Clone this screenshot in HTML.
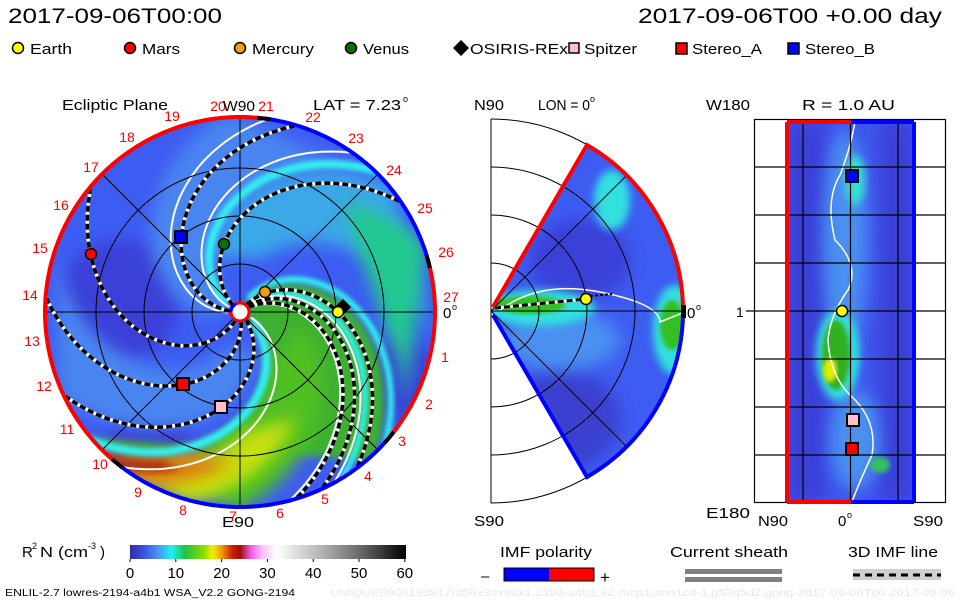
<!DOCTYPE html>
<html><head><meta charset="utf-8"><style>
html,body{margin:0;padding:0;background:#fff;width:960px;height:600px;overflow:hidden}
svg{display:block}
text{font-family:"Liberation Sans",sans-serif}
</style></head><body>
<svg id="s" width="960" height="600" viewBox="0 0 960 600" xmlns="http://www.w3.org/2000/svg">
<defs>
<filter id="b4" x="-20%" y="-20%" width="140%" height="140%"><feGaussianBlur stdDeviation="4"/></filter>
<filter id="b8" x="-30%" y="-30%" width="160%" height="160%"><feGaussianBlur stdDeviation="8"/></filter>
<filter id="b2"><feGaussianBlur stdDeviation="2"/></filter>
<clipPath id="cl"><circle cx="240" cy="312" r="194"/></clipPath>
<clipPath id="cm"><path d="M491 311 L587 145 A192 192 0 0 1 587 477 Z"/></clipPath>
<clipPath id="cr"><rect x="786" y="122" width="129" height="380"/></clipPath>
<linearGradient id="cb" x1="0" x2="1" y1="0" y2="0">
<stop offset="0" stop-color="#3030a0"/><stop offset="0.05" stop-color="#3c50e0"/><stop offset="0.1" stop-color="#4a90f0"/><stop offset="0.15" stop-color="#20f0f0"/><stop offset="0.2" stop-color="#20c040"/><stop offset="0.27" stop-color="#90e000"/><stop offset="0.3" stop-color="#f0f000"/><stop offset="0.33" stop-color="#f0a000"/><stop offset="0.37" stop-color="#d02000"/><stop offset="0.4" stop-color="#a01010"/><stop offset="0.44" stop-color="#f060f0"/><stop offset="0.48" stop-color="#ffc0ff"/><stop offset="0.53" stop-color="#ffffff"/><stop offset="0.7" stop-color="#b0b0b0"/><stop offset="0.85" stop-color="#606060"/><stop offset="1" stop-color="#000"/>
</linearGradient>
</defs>
<g id="L" clip-path="url(#cl)"></g>
<g id="G"></g>
</svg>
<script>
var NS="http://www.w3.org/2000/svg";
function el(t,a,p){var e=document.createElementNS(NS,t);for(var k in a)e.setAttribute(k,a[k]);(p||document.getElementById('G')).appendChild(e);return e;}
function tx(x,y,s,sz,c,anc,tl){var e=el('text',{x:x,y:y,'font-size':sz,fill:c||'#000','text-anchor':anc||'start'});if(tl){e.setAttribute('textLength',tl);e.setAttribute('lengthAdjust','spacingAndGlyphs');}e.textContent=s;return e;}
var cx=240,cy=312,K=0.55;
function sp(th,rr,r0,r1){var p=[];for(var r=r0;r<=r1;r+=3){var a=(th+K*(rr-r))*Math.PI/180;p.push([cx+r*Math.cos(a),cy-r*Math.sin(a)]);}return p;}
function pd(p){return 'M'+p.map(function(q){return q[0].toFixed(1)+' '+q[1].toFixed(1)}).join(' L');}
function region(t1,t2,r0,r1){var a=sp(t1,98,r0,r1),b=sp(t2,98,r0,r1).reverse();return pd(a.concat(b))+'Z';}
var L=document.getElementById('L');
el('rect',{x:40,y:110,width:400,height:410,fill:'#3d5cf2'},L);
el('circle',{cx:120,cy:300,r:60,fill:'#3a40d8',filter:'url(#b8)'},L);
el('circle',{cx:150,cy:440,r:40,fill:'#3a40d8',filter:'url(#b8)'},L);
el('circle',{cx:400,cy:380,r:40,fill:'#3a40d8',filter:'url(#b8)'},L);
el('path',{d:region(150,95,20,200),fill:'#4a85f0',filter:'url(#b8)'},L);
el('path',{d:region(95,45,60,200),fill:'#3aa8e8',filter:'url(#b8)'},L);
el('path',{d:region(75,20,150,200),fill:'#20c890',filter:'url(#b8)'},L);
el('path',{d:region(260,215,40,200),fill:'#4a85f0',filter:'url(#b8)'},L);
el('path',{d:region(8,-85,8,200),fill:'#3cb030',filter:'url(#b4)'},L);
el('path',{d:region(-35,-80,60,200),fill:'#50c020',filter:'url(#b8)'},L);
el('path',{d:region(-50,-75,120,200),fill:'#c8e010',filter:'url(#b8)'},L);
el('path',{d:region(-64,-82,150,200),fill:'#e08010',filter:'url(#b8)'},L);
el('path',{d:region(-72,-80,168,200),fill:'#b03010',filter:'url(#b4)'},L);
[[100,8],[12,6],[-5,6],[-85,8]].forEach(function(s){el('path',{d:pd(sp(s[0],98,15,200)),stroke:'#30f0f0','stroke-width':s[1],fill:'none',filter:'url(#b2)'},L);});
[[135,98],[108,98],[-22,98],[-74,98],[-8,98],[-102,98]].forEach(function(s){el('path',{d:pd(sp(s[0],s[1],12,200)),stroke:'#fff','stroke-width':2,fill:'none'},L);});
[48,96,144].forEach(function(r){el('circle',{cx:cx,cy:cy,r:r,fill:'none',stroke:'#000','stroke-width':1});});
el('path',{d:'M46 312H434M240 118V506M103 175L377 449M103 449L377 175',stroke:'#000','stroke-width':1});
[[0,98],[-12,98],[-20,98],[128,95],[103,70],[159,160],[232,92],[259,97]].forEach(function(s){var d=pd(sp(s[0],s[1],10,200));el('path',{d:d,stroke:'#fff','stroke-width':3.5,fill:'none','clip-path':'url(#cl)'});el('path',{d:d,stroke:'#000','stroke-width':3.5,fill:'none','stroke-dasharray':'6 3','clip-path':'url(#cl)'});});
function arc(a1,a2,col,r,w){var p=[];for(var a=a1;a<=a2;a+=1){var t=a*Math.PI/180;p.push([cx+r*Math.cos(t),cy-r*Math.sin(t)]);}el('path',{d:pd(p),stroke:col,'stroke-width':w,fill:'none'});}
arc(83,231,'#f00',195,4);arc(231,320,'#00f',195,4);arc(320,375,'#f00',195,4);arc(15,83,'#00f',195,4);
[83,231,320,15].forEach(function(a){arc(a-2,a+2,'#000',195,4);});
el('circle',{cx:cx,cy:cy,r:9,fill:'#fff',stroke:'#f00','stroke-width':3});
el('path',{d:'M231 312A9 9 0 0 1 236 304',stroke:'#00f','stroke-width':3,fill:'none'});
var nums=[[27,451,302],[1,445,362],[2,429,409],[3,402,446],[4,368,481],[5,325,504],[6,280,518],[7,233,521],[8,183,515],[9,138,497],[10,100,469],[11,67,434],[12,44,391],[13,32,346],[14,30,300],[15,40,253],[16,61,210],[17,91,172],[18,127,142],[19,172,121],[20,218,111],[21,266,111],[22,313,122],[23,356,143],[24,394,175],[25,425,213],[26,446,257]];
nums.forEach(function(n){tx(n[1],n[2],''+n[0],14,'#f00','middle');});
tx(62,110,'Ecliptic Plane',15,'#000','start',106);
tx(223,111,'W90',15,'#000','start',32);
tx(313,110,'LAT = 7.23',15,'#000','start',88);tx(403,102,'o',9);
tx(222,527,'E90',15,'#000','start',32);
tx(443,318,'0',15);tx(452,310,'o',9);
function circ(x,y,c){el('circle',{cx:x,cy:y,r:5.5,fill:c,stroke:'#000','stroke-width':1.5});}
function sq(x,y,c){el('rect',{x:x-6,y:y-6,width:12,height:12,fill:c,stroke:'#000','stroke-width':2});}
function dia(x,y){el('path',{d:'M'+x+' '+(y-8)+'L'+(x+8)+' '+y+'L'+x+' '+(y+8)+'L'+(x-8)+' '+y+'Z',fill:'#000'});}
dia(343,307);circ(338,312,'#ff0');circ(265,292,'#f0a000');circ(224,244,'#087008');circ(91,254,'#f00');
sq(181,237,'#00f');sq(183,384,'#f00');sq(221,407,'#ffc0c8');
var mc=el('g',{'clip-path':'url(#cm)'});
el('rect',{x:490,y:140,width:200,height:340,fill:'#3d5cf2'},mc);
el('ellipse',{cx:560,cy:420,rx:60,ry:50,fill:'#3a40d0',filter:'url(#b8)'},mc);
el('ellipse',{cx:580,cy:260,rx:50,ry:40,fill:'#3a40d8',filter:'url(#b8)'},mc);
el('ellipse',{cx:560,cy:340,rx:60,ry:30,fill:'#4a90f0',filter:'url(#b8)'},mc);
el('ellipse',{cx:612,cy:200,rx:18,ry:30,fill:'#30e0e0',filter:'url(#b4)'},mc);
el('ellipse',{cx:540,cy:308,rx:55,ry:18,fill:'#30e0e0',filter:'url(#b4)'},mc);
el('ellipse',{cx:530,cy:305,rx:35,ry:9,fill:'#30c020',filter:'url(#b2)'},mc);
el('ellipse',{cx:675,cy:330,rx:22,ry:45,fill:'#30e0e0',filter:'url(#b4)'},mc);
el('ellipse',{cx:672,cy:325,rx:12,ry:25,fill:'#30c020',filter:'url(#b2)'},mc);
el('path',{d:'M500 310 Q540 280 600 292 T660 322 L690 310',stroke:'#fff','stroke-width':1.5,fill:'none'},mc);
[48,96,144,192].forEach(function(r){el('path',{d:'M491 '+(311-r)+'A'+r+' '+r+' 0 0 1 491 '+(311+r),fill:'none',stroke:'#000','stroke-width':1});});
el('path',{d:'M491 119V503M491 311H683M491 311L627 175M491 311L627 447',stroke:'#000','stroke-width':1});
el('path',{d:'M495 308 L586 299',stroke:'#fff','stroke-width':3});el('path',{d:'M495 308 L586 299',stroke:'#000','stroke-width':3,'stroke-dasharray':'6 3'});
el('path',{d:'M590 296 L612 294',stroke:'#000','stroke-width':2,'stroke-dasharray':'3 2'});
el('path',{d:'M493 307L587 145A192 192 0 0 1 683 308',stroke:'#f00','stroke-width':4,fill:'none'});
el('path',{d:'M493 315L587 477A192 192 0 0 0 683 315',stroke:'#00f','stroke-width':4,fill:'none'});
el('rect',{x:681,y:305,width:5,height:13,fill:'#000'});
circ(586,299,'#ff0');
tx(474,110,'N90',15,'#000','start',30);tx(538,110,'LON = 0',15,'#000','start',52);tx(590,102,'o',9);
tx(474,526,'S90',15,'#000','start',30);tx(687,318,'0',15);tx(696,310,'o',9);
var rc=el('g',{'clip-path':'url(#cr)'});
el('rect',{x:786,y:122,width:129,height:380,fill:'#3d55ee'},rc);
el('rect',{x:786,y:122,width:40,height:380,fill:'#3a40d8',filter:'url(#b8)'},rc);
el('rect',{x:880,y:122,width:35,height:380,fill:'#3a40d8',filter:'url(#b8)'},rc);
el('ellipse',{cx:845,cy:240,rx:22,ry:110,fill:'#4a90f0',filter:'url(#b8)'},rc);
el('ellipse',{cx:855,cy:440,rx:25,ry:50,fill:'#4a90f0',filter:'url(#b8)'},rc);
el('ellipse',{cx:855,cy:180,rx:10,ry:25,fill:'#30e0d0',filter:'url(#b4)'},rc);
el('ellipse',{cx:838,cy:355,rx:22,ry:45,fill:'#30e0e0',filter:'url(#b4)'},rc);
el('ellipse',{cx:836,cy:355,rx:14,ry:35,fill:'#30b020',filter:'url(#b2)'},rc);
el('ellipse',{cx:830,cy:370,rx:7,ry:12,fill:'#e0f000',filter:'url(#b2)'},rc);
el('ellipse',{cx:880,cy:465,rx:10,ry:8,fill:'#30c060',filter:'url(#b2)'},rc);
el('path',{d:'M855 122 Q850 150 840 175 Q825 200 835 240 Q860 265 848 290 Q830 315 828 340 Q830 375 850 395 Q878 420 872 455 Q858 485 852 502',stroke:'#fff','stroke-width':1.5,fill:'none'},rc);
el('rect',{x:754.5,y:119.5,width:191,height:383,fill:'none',stroke:'#000','stroke-width':1.2});
el('path',{d:'M803 119V503M850.5 119V503M898 119V503M754 167H946M754 215H946M754 263H946M754 311H946M754 359H946M754 407H946M754 455H946M746 311H754',stroke:'#000','stroke-width':1.2});
el('path',{d:'M787 122V502M787 122H851M787 502H851',stroke:'#f00','stroke-width':4,fill:'none'});
el('path',{d:'M914 122V502M851 122H914M851 502H914',stroke:'#00f','stroke-width':4,fill:'none'});
sq(852,176,'#00f');circ(842,311,'#ff0');sq(853,420,'#ffc0c8');sq(852,449,'#f00');
tx(706,110,'W180',15,'#000','start',44);tx(802,110,'R = 1.0 AU',15,'#000','start',93);
tx(706,518,'E180',15,'#000','start',44);tx(736,317,'1',14);
tx(758,526,'N90',15,'#000','start',30);tx(838,526,'0',15);tx(847,518,'o',9);tx(913,526,'S90',15,'#000','start',30);
tx(8,23,'2017-09-06T00:00',21,'#000','start',214);tx(942,23,'2017-09-06T00 +0.00 day',21,'#000','end',304);
function lg(x,t,w){tx(x,54,t,15,'#000','start',w);}
circ(18,48,'#ff0');lg(30,'Earth',42);circ(130,48,'#f00');lg(142,'Mars',38);
circ(240,48,'#f0a000');lg(252,'Mercury',62);circ(351,48,'#087008');lg(363,'Venus',46);
dia(461,48);lg(470,'OSIRIS-REx',98);el('rect',{x:569,y:43,width:10,height:10,fill:'#ffc0c8',stroke:'#000','stroke-width':1.5});lg(584,'Spitzer',53);
el('rect',{x:676,y:43,width:11,height:11,fill:'#f00',stroke:'#000','stroke-width':1.5});lg(692,'Stereo_A',70);
el('rect',{x:788,y:43,width:11,height:11,fill:'#00f',stroke:'#000','stroke-width':1.5});lg(805,'Stereo_B',70);
tx(22,557,'R',15);tx(32,549,'2',9);tx(40,557,'N (cm',15,'#000','start',48);tx(88,549,'-3',9);tx(100,557,')',15);
el('rect',{x:130,y:545,width:276,height:14,fill:'url(#cb)'});
for(var i=0;i<=6;i++){tx(130+i*45.8,578,''+i*10,15,'#000','middle');el('path',{d:'M'+(130+i*45.8)+' 559v3',stroke:'#000'});}
tx(500,557,'IMF polarity',15,'#000','start',92);
el('rect',{x:504,y:568,width:45,height:13,fill:'#00f'});el('rect',{x:549,y:568,width:45,height:13,fill:'#f00'});el('rect',{x:504,y:568,width:90,height:13,fill:'none',stroke:'#000'});
tx(481,581,'–',15);tx(600,583,'+',17);
tx(670,557,'Current sheath',15,'#000','start',118);
el('rect',{x:685,y:569,width:97,height:5,fill:'#808080'});el('rect',{x:685,y:577,width:97,height:5,fill:'#808080'});
tx(848,557,'3D IMF line',15,'#000','start',90);
el('rect',{x:853,y:569,width:88,height:11,fill:'#d0d0d0'});el('path',{d:'M853 575H941',stroke:'#000','stroke-width':3,'stroke-dasharray':'7 5'});
tx(5,596,'ENLIL-2.7 lowres-2194-a4b1 WSA_V2.2 GONG-2194',10,'#000','start',290);
tx(330,596,'UNIQUE0906192817/256x30x90x1.2194-a4b1.32-mcp1umn1cd-1.g53q5d2.gong-2017-09-06T00   2017-09-06',10,'#e8e8e8','start',625);
</script>
</body></html>
